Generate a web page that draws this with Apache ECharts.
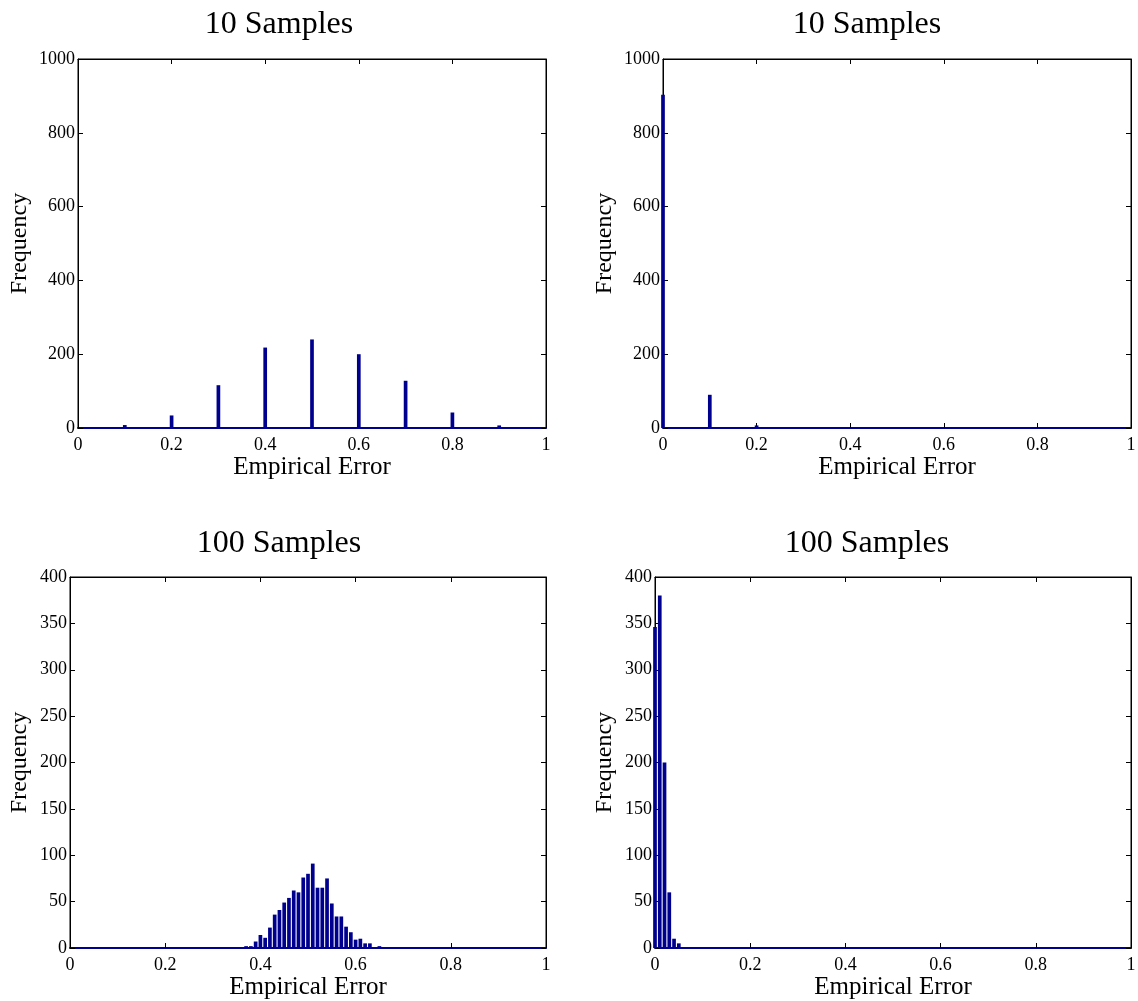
<!DOCTYPE html>
<html>
<head>
<meta charset="utf-8">
<script src="https://cdn.jsdelivr.net/npm/echarts@6/dist/echarts.min.js"></script>
<style>
  html, body { margin: 0; padding: 0; background: #fff; }
  #chart { width: 1138px; height: 1001px; }
</style>
</head>
<body>
<div id="chart"></div>
<script>
// bin centres (empirical error) and counts
const errTen = [0, 0.1, 0.2, 0.3, 0.4, 0.5, 0.6, 0.7, 0.8, 0.9, 1.0];
const freqTenLeft = [0, 8, 34, 116, 218, 240, 200, 128, 42, 7, 0];
const freqTenRight = [903, 90, 7, 0, 0, 0, 0, 0, 0, 0, 0];

const errHundredLeft = [0.34, 0.35, 0.37, 0.38, 0.39, 0.40, 0.41, 0.42, 0.43, 0.44,
  0.45, 0.46, 0.47, 0.48, 0.49, 0.50, 0.51, 0.52, 0.53, 0.54, 0.55, 0.56, 0.57,
  0.58, 0.59, 0.60, 0.61, 0.62, 0.63, 0.64, 0.65, 0.66];
const freqHundredLeft = [1, 1, 2, 2, 7, 14, 11, 22, 36, 41,
  49, 54, 62, 60, 76, 80, 91, 65, 65, 75, 48, 34, 34,
  23, 17, 9, 10, 5, 5, 1, 2, 1];

const errHundredRight = [0, 0.01, 0.02, 0.03, 0.04, 0.05];
const freqHundredRight = [346, 380, 200, 60, 10, 5];

const titles = ["10 Samples", "10 Samples", "100 Samples", "100 Samples"];
const xName = "Empirical Error";
const yName = "Frequency";

const barColor = "#00008f";
const font = "Liberation Serif";

const panels = [
  { grid: { left: 78, top: 59, width: 468, height: 369 }, yMax: 1000, yStep: 200, gap: 46,
    title: [279, 25], x: errTen, y: freqTenLeft },
  { grid: { left: 663, top: 59, width: 468, height: 369 }, yMax: 1000, yStep: 200, gap: 46,
    title: [867, 25], x: errTen, y: freqTenRight },
  { grid: { left: 70, top: 577, width: 476, height: 371 }, yMax: 400, yStep: 50, gap: 38,
    title: [279, 544], x: errHundredLeft, y: freqHundredLeft },
  { grid: { left: 655, top: 577, width: 476, height: 371 }, yMax: 400, yStep: 50, gap: 38,
    title: [867, 544], x: errHundredRight, y: freqHundredRight }
];

const grids = [], xAxes = [], yAxes = [], series = [], graphic = [];

panels.forEach((p, i) => {
  grids.push(Object.assign({
    show: true,
    borderColor: "#000",
    borderWidth: 1,
    backgroundColor: "#fff",
    containLabel: false,
    outerBoundsMode: "none"
  }, p.grid));

  const tick = { show: true, inside: true, length: 5, lineStyle: { color: "#000", width: 1 } };
  const blackLine = { show: true, onZero: false, lineStyle: { color: "#000", width: 1 } };

  // bottom x axis (labels + blue baseline)
  xAxes.push({
    gridIndex: i, type: "value", min: 0, max: 1, interval: 0.2, position: "bottom",
    axisLine: { show: true, onZero: false, lineStyle: { color: barColor, width: 2 } },
    axisTick: tick,
    splitLine: { show: false },
    axisLabel: {
      color: "#000", fontFamily: font, fontSize: 18, margin: 8,
      formatter: v => (v === 0 || v === 1) ? String(v) : v.toFixed(1)
    },
    name: xName, nameLocation: "middle", nameGap: 25,
    nameTextStyle: { color: "#000", fontFamily: font, fontSize: 25, verticalAlign: "top" }
  });
  // top x axis, ticks only
  xAxes.push({
    gridIndex: i, type: "value", min: 0, max: 1, interval: 0.2, position: "top",
    axisLine: blackLine, axisTick: tick, axisLabel: { show: false },
    splitLine: { show: false }
  });

  yAxes.push({
    gridIndex: i, type: "value", min: 0, max: p.yMax, interval: p.yStep, position: "left",
    axisLine: blackLine,
    axisTick: tick,
    splitLine: { show: false },
    axisLabel: {
      color: "#000", fontFamily: font, fontSize: 18, margin: 3,
      formatter: v => String(v)
    },
    name: yName, nameLocation: "middle", nameGap: p.gap,
    nameTextStyle: { color: "#000", fontFamily: font, fontSize: 24 }
  });
  // right y axis, ticks only
  yAxes.push({
    gridIndex: i, type: "value", min: 0, max: p.yMax, interval: p.yStep, position: "right",
    axisLine: blackLine, axisTick: tick, axisLabel: { show: false },
    splitLine: { show: false }
  });

  series.push({
    type: "bar",
    xAxisIndex: i * 2,
    yAxisIndex: i * 2,
    barWidth: 3.7,
    clip: true,
    z: 3,
    itemStyle: { color: barColor },
    emphasis: { disabled: true },
    data: p.x.map((e, k) => [e, p.y[k]])
  });

  graphic.push({
    type: "text",
    x: p.title[0],
    y: p.title[1],
    style: {
      text: titles[i],
      fill: "#000",
      font: "32px '" + font + "'",
      align: "center",
      verticalAlign: "middle"
    }
  });
});

const chart = echarts.init(document.getElementById("chart"), null, { renderer: "canvas" });
chart.setOption({
  animation: false,
  backgroundColor: "#fff",
  grid: grids,
  xAxis: xAxes,
  yAxis: yAxes,
  series: series,
  graphic: graphic
});
</script>
</body>
</html>
